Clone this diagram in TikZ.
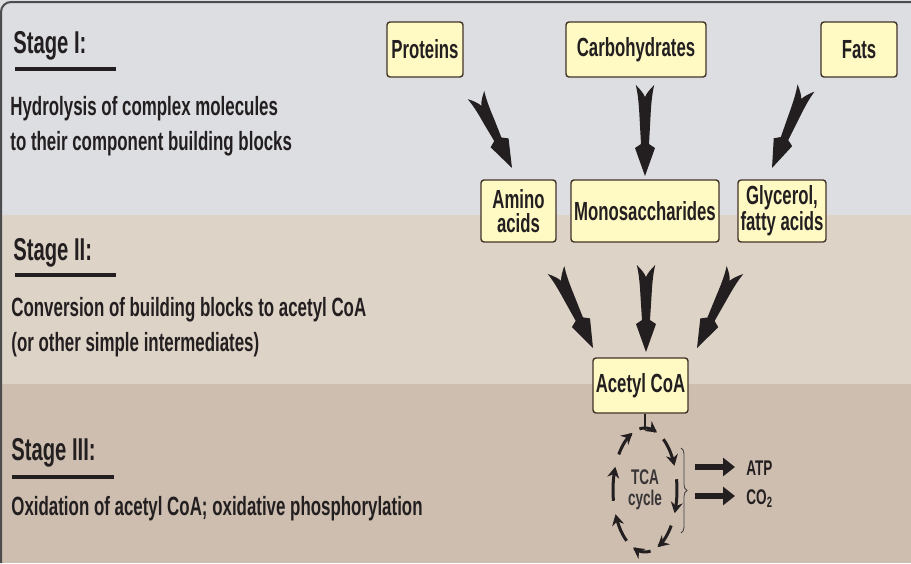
\documentclass[tikz,border=0pt]{standalone}
\usepackage{fontspec}
\setmainfont[FakeStretch=0.64]{Liberation Sans}
\usetikzlibrary{calc,arrows.meta,decorations.pathreplacing}

\definecolor{bandone}{RGB}{221,222,226}
\definecolor{bandtwo}{RGB}{222,211,199}
\definecolor{bandthree}{RGB}{206,190,176}
\definecolor{boxfill}{RGB}{255,250,196}
\definecolor{inkdark}{RGB}{35,31,32}

\tikzset{
  molbox/.style={draw=inkdark!80!brown, line width=0.7pt, rounded corners=1.5pt, fill=boxfill,
    text=inkdark, inner sep=0pt, align=center, font=\fontsize{13.1}{12}\selectfont\bfseries},
  stagetitle/.style={anchor=base west, text=inkdark, inner sep=0pt, font=\fontsize{15.8}{17}\selectfont\bfseries},
  stagetext/.style={anchor=base west, text=inkdark, inner sep=0pt, align=left, font=\fontsize{13.2}{17.5}\selectfont\bfseries},
  stagebar/.style={line width=2pt, inkdark},
  arrowfill/.style={fill=inkdark},
  cyclearrow/.style={line width=1.5pt, inkdark, -{Stealth[length=5.5pt,width=6pt]}},
  outarrow/.style={line width=3pt, inkdark, -{Triangle[length=6pt,width=9pt]}},
  smalltext/.style={text=inkdark, inner sep=0pt, font=\fontsize{10.6}{10.5}\selectfont\bfseries},
}

% tapered arrow with notched tail, from #1 to #2
\newcommand{\fatarrow}[2]{%
  \fill[arrowfill] let \p1=($(#2)-(#1)$), \n1={atan2(\y1,\x1)}, \n2={veclen(\x1,\y1)},
      \n3={\n2-16}, \n4={\n2-14} in [shift={(#1)}, rotate=\n1]
    (0pt,4.6pt) .. controls (3pt,3.9pt) and (7pt,3.2pt) .. (15pt,2.8pt) -- (\n3,2pt)
    -- (\n4,5pt) -- (\n2,0pt) -- (\n4,-5pt) -- (\n3,-2pt) -- (15pt,-2.8pt)
    .. controls (7pt,-3.2pt) and (3pt,-3.9pt) .. (0pt,-4.6pt)
    .. controls (2pt,-2.6pt) and (4pt,-0.8pt) .. (6pt,0pt)
    .. controls (4pt,0.8pt) and (2pt,2.6pt) .. cycle;}

\begin{document}
\begin{tikzpicture}[x=0.5pt, y=-0.5pt]
    \useasboundingbox (0,0) rectangle (911,563);

    % bands
    \fill[bandone] (0,0) rectangle (911,215);
    \fill[bandtwo] (0,215) rectangle (911,384);
    \fill[bandthree] (0,384) rectangle (911,563);
    \draw[gray!60!black, line width=1pt, rounded corners=5pt] (1,563) -- (1,2) -- (911,2);

    % stage labels
    \node[stagetitle] (s1) at (13,53) {Stage I:};
    \draw[stagebar] (15,69) -- (116,69);
    \node[stagetext] (s1text) at (10,150) {Hydrolysis of complex molecules\\to their component building blocks};

    \node[stagetitle] (s2) at (13,260) {Stage II:};
    \draw[stagebar] (15,275) -- (116,275);
    \node[stagetext] (s2text) at (11,351) {Conversion of building blocks to acetyl CoA\\(or other simple intermediates)};

    \node[stagetitle] (s3) at (11,460) {Stage III:};
    \draw[stagebar] (12,477) -- (114,477);
    \node[stagetext] (s3text) at (11,515) {Oxidation of acetyl CoA; oxidative phosphorylation};

    % molecules
    \node[molbox, minimum width=38pt, minimum height=27.5pt] (proteins) at (425,49.5) {Proteins};
    \node[molbox, minimum width=70pt, minimum height=27.5pt] (carbs) at (636,49.5) {Carbohydrates};
    \node[molbox, minimum width=38pt, minimum height=27.5pt] (fats) at (859,49.5) {Fats};
    \node[molbox, minimum width=37.5pt, minimum height=31pt] (amino) at (518.5,211) {Amino\\acids};
    \node[molbox, minimum width=74pt, minimum height=31pt] (mono) at (645,211) {Monosaccharides};
    \node[molbox, minimum width=44pt, minimum height=31pt] (glycerol) at (782,211) {Glycerol,\\fatty acids};
    \node[molbox, minimum width=47.5pt, minimum height=27.5pt] (acetyl) at (640.5,385.5) {Acetyl CoA};

    % stage I arrows
    \coordinate (p-tail) at (476,95);  \coordinate (p-tip) at (512,168);
    \coordinate (c-tail) at (645,85);  \coordinate (c-tip) at (645,176);
    \coordinate (f-tail) at (806,88);  \coordinate (f-tip) at (772,168);
    \fatarrow{p-tail}{p-tip}
    \fatarrow{c-tail}{c-tip}
    \fatarrow{f-tail}{f-tip}

    % stage II arrows
    \coordinate (a-tail) at (556,270); \coordinate (a-tip) at (593,348);
    \coordinate (m-tail) at (646,265); \coordinate (m-tip) at (646,352);
    \coordinate (g-tail) at (735,270); \coordinate (g-tip) at (697,348);
    \fatarrow{a-tail}{a-tip}
    \fatarrow{m-tail}{m-tip}
    \fatarrow{g-tail}{g-tip}

    % TCA cycle
    \node[smalltext, align=center, text=inkdark!90] (tca) at (645,490) {TCA\\cycle};
    \coordinate (tcatop) at (645,430);
    \draw[inkdark, line width=1.3pt] (acetyl.south -| tcatop) -- (tcatop);
    \foreach \a in {-100,-55,-10,35,80,125,170,215} {
        \pgfmathsetmacro\b{\a+32}
        \draw[cyclearrow] plot[domain=\a:\b, samples=12] ({645+32*cos(\x)},{490+62*sin(\x)});
    }
    \draw[decorate, decoration={brace, amplitude=3pt}, gray!50!black, line width=0.4pt] (681,448) -- (681,533);

    % products
    \node[smalltext, anchor=base west] (atp) at (746,475) {ATP};
    \node[smalltext, anchor=base west] (co2) at (746,504) {CO\textsubscript{2}};
    \coordinate (atp-start) at (695,467);
    \coordinate (co2-start) at (695,496);
    \draw[outarrow] (atp-start) -- (atp-start -| 735,0);
    \draw[outarrow] (co2-start) -- (co2-start -| 735,0);
\end{tikzpicture}
\end{document}
